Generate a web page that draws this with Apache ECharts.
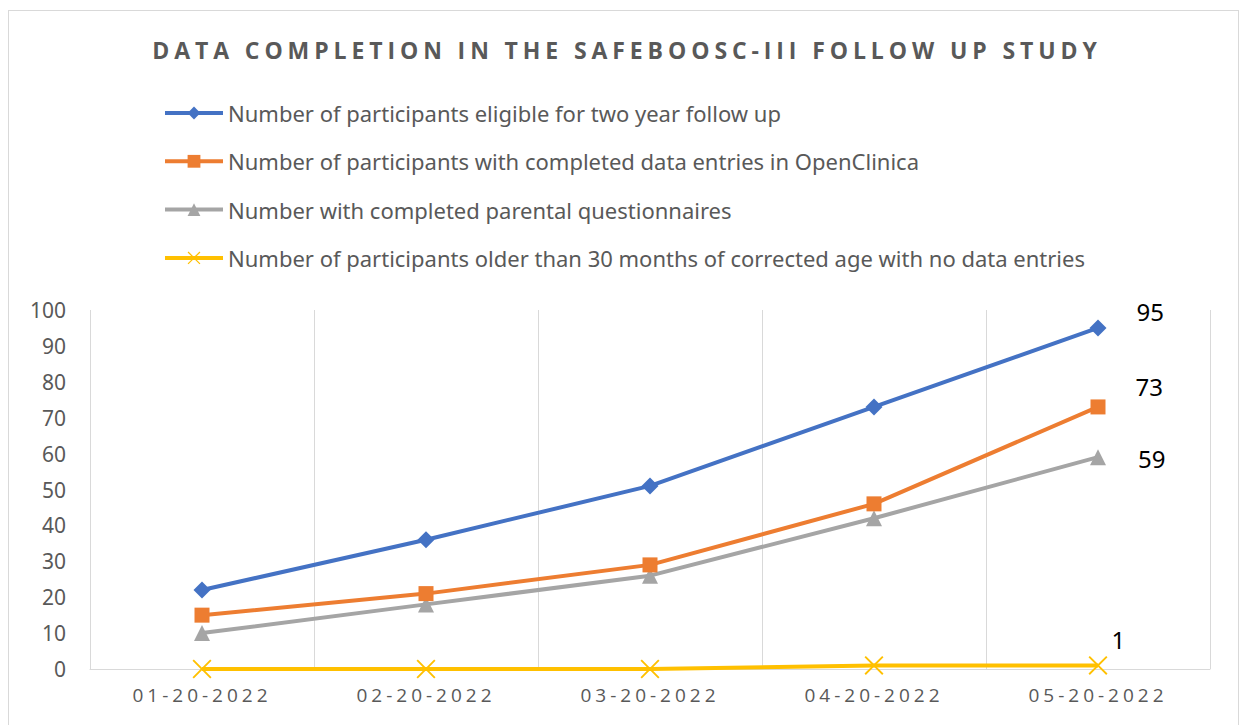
<!DOCTYPE html>
<html>
<head>
<meta charset="utf-8">
<script src="https://cdn.jsdelivr.net/npm/echarts@6/dist/echarts.min.js"></script>
<style>
  html, body { margin: 0; padding: 0; background: #fff; }
  .frame {
    position: absolute; left: 8px; top: 10px; width: 1231px; height: 730px;
    border: 1px solid #d9d9d9; box-sizing: border-box;
  }
  #chart { position: absolute; left: 0; top: 0; width: 1241px; height: 725px; }
  /* spaced caps for title and dates, like the original */
  #chart text[style*="Open Sans"] { letter-spacing: 4px; }
  #chart text[style*="bold"][style*="Open Sans"] { letter-spacing: 4.9px; }
</style>
</head>
<body>
<div class="frame"></div>
<div id="chart"></div>
<script>
const title = 'DATA COMPLETION IN THE SAFEBOOSC-III FOLLOW UP STUDY'
const dates = ['01-20-2022', '02-20-2022', '03-20-2022', '04-20-2022', '05-20-2022']
const seriesNames = [
  'Number of participants eligible for two year follow up',
  'Number of participants with completed data entries in OpenClinica',
  'Number with completed parental questionnaires',
  'Number of participants older than 30 months of corrected age with no data entries'
]
const eligible = [22, 36, 51, 73, 95]
const completedEntries = [15, 21, 29, 46, 73]
const parentalQuest = [10, 18, 26, 42, 59]
const noEntries = [0, 0, 0, 1, 1]

const colors = ['#4472C4', '#ED7D31', '#A5A5A5', '#FFC000']
const symbols = [
  'diamond',
  'rect',
  'triangle',
  'path://M0,0.7L0.7,0L5,4.3L9.3,0L10,0.7L5.7,5L10,9.3L9.3,10L5,5.7L0.7,10L0,9.3L4.3,5Z'
]
const symbolSizes = [17, 15, 16, 19]
const labelOffsets = [[25, -16], [25, -20], [27, 1], [-1, -26]]

// only the last point of each line gets its value printed
function withEndLabel (values, idx) {
  return values.map((v, i) => i === values.length - 1
    ? {
        value: v,
        label: {
          show: true,
          position: 'right',
          offset: labelOffsets[idx],
          color: '#000',
          fontSize: 24,
          fontFamily: 'Noto Sans'
        }
      }
    : v)
}

const allValues = [eligible, completedEntries, parentalQuest, noEntries]

const chart = echarts.init(document.getElementById('chart'), null, { renderer: 'svg' })
chart.setOption({
  animation: false,
  color: colors,
  graphic: [{
    type: 'text',
    x: 627,
    y: 50,
    style: {
      text: title,
      fill: '#595959',
      font: 'bold 23px "Open Sans"',
      textAlign: 'center',
      textVerticalAlign: 'middle'
    }
  }],
  legend: {
    orient: 'vertical',
    left: 163,
    top: 101,
    padding: 0,
    itemWidth: 58,
    itemHeight: 16,
    itemGap: 24.3,
    lineStyle: { width: 4 },
    textStyle: {
      color: '#595959',
      fontSize: 22,
      lineHeight: 24,
      fontFamily: 'Noto Sans'
    },
    data: seriesNames
  },
  grid: {
    left: 90,
    right: 31,
    top: 310,
    bottom: 56,
    containLabel: false
  },
  xAxis: {
    type: 'category',
    data: dates,
    boundaryGap: true,
    axisLine: { lineStyle: { color: '#d9d9d9', width: 1 } },
    axisTick: { show: false },
    axisLabel: {
      color: '#595959',
      fontSize: 19,
      fontFamily: 'Open Sans',
      margin: 16
    },
    splitLine: { show: true, lineStyle: { color: '#d9d9d9', width: 1 } }
  },
  yAxis: {
    type: 'value',
    min: 0,
    max: 100,
    interval: 10,
    axisLine: { show: false },
    axisTick: { show: false },
    splitLine: { show: false },
    axisLabel: {
      color: '#595959',
      fontSize: 21,
      fontFamily: 'Noto Sans',
      margin: 24
    }
  },
  series: allValues.map((vals, i) => ({
    name: seriesNames[i],
    type: 'line',
    data: withEndLabel(vals, i),
    symbol: symbols[i],
    symbolSize: symbolSizes[i],
    showAllSymbol: true,
    lineStyle: { width: 4, color: colors[i] },
    itemStyle: { color: colors[i] },
    z: 10 - i
  }))
})
</script>
</body>
</html>
